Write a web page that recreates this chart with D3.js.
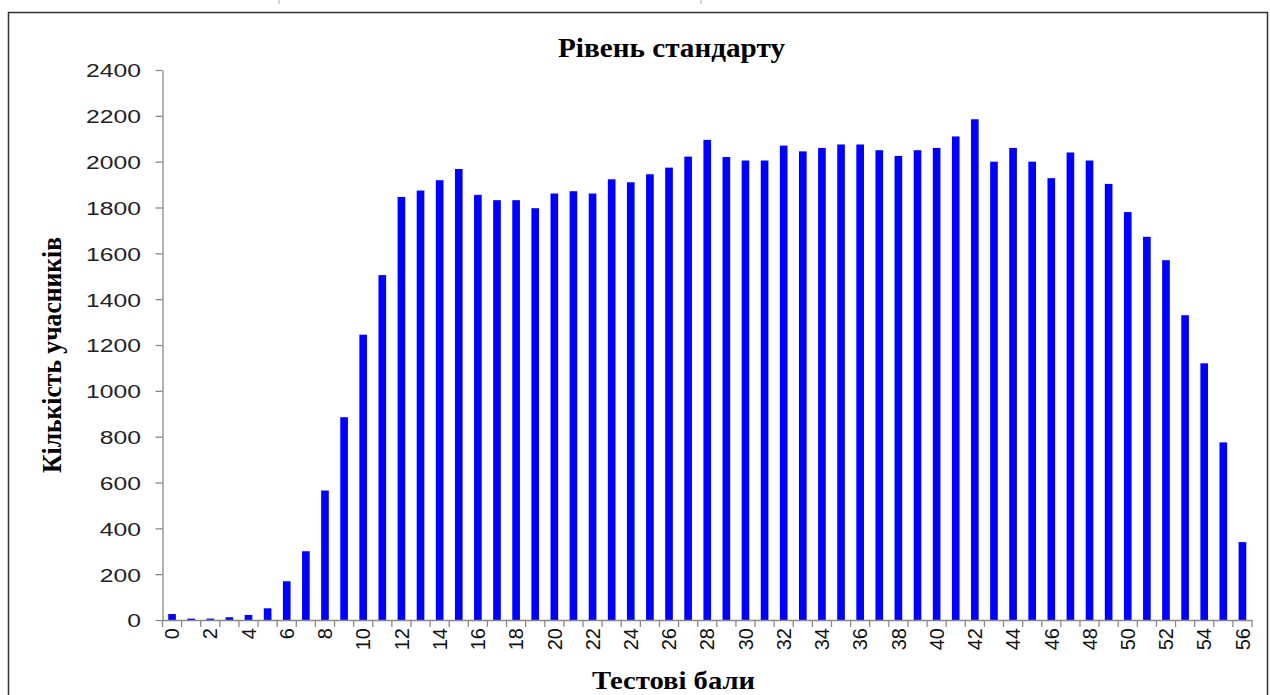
<!DOCTYPE html>
<html><head><meta charset="utf-8">
<script src="https://cdn.jsdelivr.net/npm/d3@7"></script>
<style>body{margin:0;background:#fff;} svg{display:block}</style>
</head><body>
<svg id="c" width="1270" height="695"></svg>
<script>
const scores = [0,1,2,3,4,5,6,7,8,9,10,11,12,13,14,15,16,17,18,19,20,21,22,23,24,25,26,27,28,29,30,31,32,33,34,35,36,37,38,39,40,41,42,43,44,45,46,47,48,49,50,51,52,53,54,55,56];
const counts = [26,6,6,12,22,51,169,300,565,885,1245,1505,1846,1874,1919,1968,1855,1832,1832,1797,1861,1871,1861,1923,1910,1945,1974,2022,2095,2020,2005,2005,2070,2045,2060,2075,2075,2050,2025,2050,2060,2110,2185,2000,2060,2000,1928,2040,2005,1903,1780,1672,1570,1330,1120,775,340];
const yTicks = [0,200,400,600,800,1000,1200,1400,1600,1800,2000,2200,2400];
const xTickLabels = [0,2,4,6,8,10,12,14,16,18,20,22,24,26,28,30,32,34,36,38,40,42,44,46,48,50,52,54,56];
const chartTitle = "Рівень стандарту";
const xTitle = "Тестові бали";
const yTitle = "Кількість учасників";

const svg = d3.select("#c");
const AXIS_COLOR = "#8a8a8a";

// outer frame
svg.append("rect").attr("x",8.5).attr("y",12.5).attr("width",1259).attr("height",700)
  .attr("fill","none").attr("stroke","#333").attr("stroke-width",1.5);
[279,701].forEach(px => svg.append("line").attr("x1",px).attr("x2",px).attr("y1",0).attr("y2",4)
  .attr("stroke","#aaa").attr("stroke-width",1));

const x = d3.scaleBand().domain(scores).range([162.5,1252]).paddingInner(0.6).paddingOuter(0.3);
const y = d3.scaleLinear().domain([0,2400]).range([620,70]);

// bars
svg.append("g").selectAll("rect").data(scores).join("rect")
  .attr("x", d => x(d))
  .attr("width", x.bandwidth())
  .attr("y", (d,i) => y(counts[i]))
  .attr("height", (d,i) => y(0) - y(counts[i]))
  .attr("fill", "#0000ff");

// y axis
const yAxis = svg.append("g").attr("transform","translate(162.5,0)")
  .call(d3.axisLeft(y).tickValues(yTicks).tickSize(7).tickSizeOuter(0).tickFormat(d3.format("d")));
yAxis.select(".domain").attr("stroke",AXIS_COLOR).attr("stroke-width",1.3);
yAxis.selectAll(".tick line").attr("stroke",AXIS_COLOR).attr("stroke-width",1.3);
yAxis.selectAll(".tick text")
  .attr("x", -21.5/1.3).attr("dy","0.36em")
  .attr("transform","scale(1.3,1)")
  .attr("fill","#222")
  .style("font-family","'Liberation Sans', Arial, sans-serif")
  .style("font-size","19px");

// x axis
const xAxis = svg.append("g").attr("transform","translate(0,620)")
  .call(d3.axisBottom(x).tickValues(xTickLabels).tickSize(0).tickSizeOuter(0));
xAxis.select(".domain").attr("stroke",AXIS_COLOR).attr("stroke-width",1.3);
xAxis.selectAll(".tick text")
  .attr("transform","rotate(-90)")
  .attr("x",-8).attr("y",0).attr("dy","0.36em")
  .attr("text-anchor","end")
  .attr("fill","#111")
  .style("font-family","'Liberation Sans', Arial, sans-serif")
  .style("font-size","20px");
// boundary tick marks
const bounds = scores.map(d => x(d) - (x.step()-x.bandwidth())/2);
bounds.push(x.range()[1]);
xAxis.append("g").selectAll("line").data(bounds).join("line")
  .attr("x1", d => d).attr("x2", d => d).attr("y1",0).attr("y2",7)
  .attr("stroke",AXIS_COLOR).attr("stroke-width",1.3);

// titles
svg.append("text").attr("x",671.5).attr("y",57).attr("text-anchor","middle")
  .attr("textLength",227).attr("lengthAdjust","spacingAndGlyphs")
  .style("font-family","'Liberation Serif', 'Times New Roman', serif")
  .style("font-weight","bold").style("font-size","28px").attr("fill","#000")
  .text(chartTitle);

svg.append("text").attr("x",673.5).attr("y",689).attr("text-anchor","middle")
  .attr("textLength",163).attr("lengthAdjust","spacingAndGlyphs")
  .style("font-family","'Liberation Serif', 'Times New Roman', serif")
  .style("font-weight","bold").style("font-size","26px").attr("fill","#000")
  .text(xTitle);

svg.append("text").attr("transform","translate(61,355) rotate(-90)").attr("text-anchor","middle")
  .attr("textLength",236).attr("lengthAdjust","spacingAndGlyphs")
  .style("font-family","'Liberation Serif', 'Times New Roman', serif")
  .style("font-weight","bold").style("font-size","28px").attr("fill","#000")
  .text(yTitle);
</script>
</body></html>
